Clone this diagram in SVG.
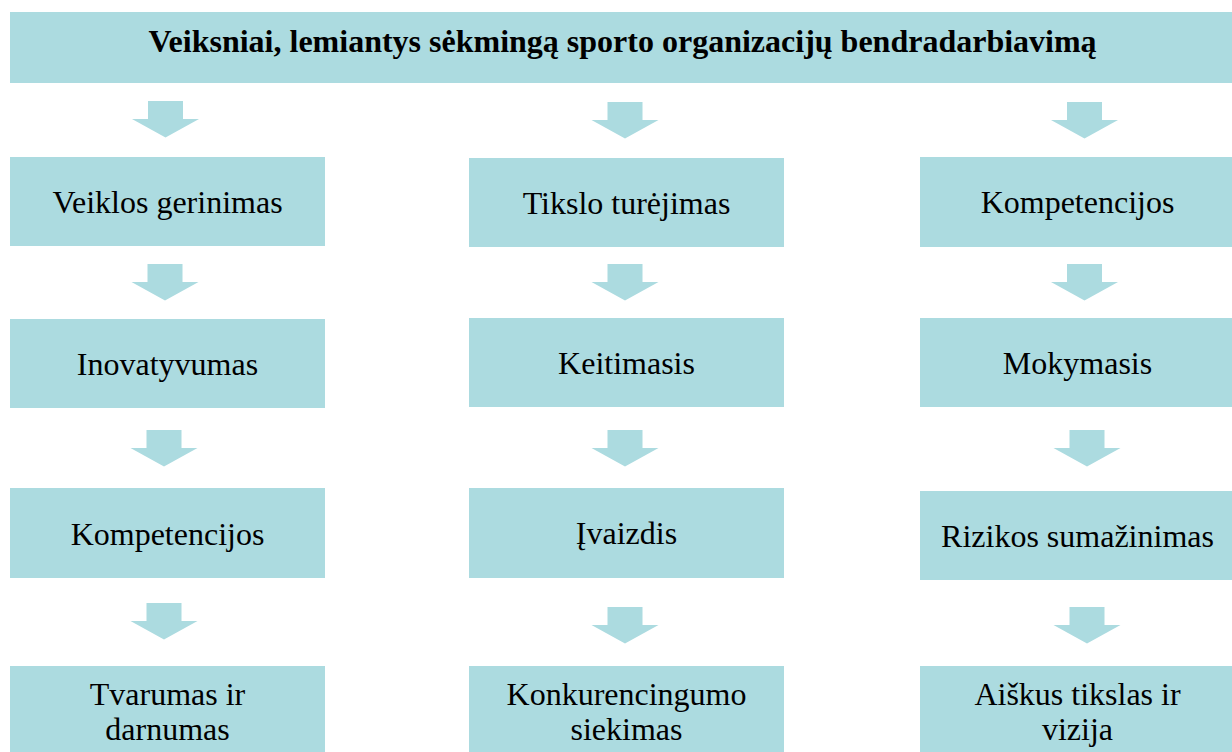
<svg xmlns="http://www.w3.org/2000/svg" xmlns:xlink="http://www.w3.org/1999/xlink" width="1232" height="752" viewBox="0 0 1232 752">
<style>
.box{fill:#acdbe0}
.arr{fill:#acdbe0}
text{font-family:"Liberation Serif","Times New Roman",serif;font-size:32px;fill:#000;text-anchor:middle}
.title{font-weight:bold;font-size:32px}
</style>
<defs>
<path id="dn" d="M-17.5,0 H17.5 V18 H33.5 L0,36.5 L-33.5,18 H-17.5 Z"/>
</defs>
<rect width="1232" height="752" fill="#fff"/>
<g id="connectors" class="arr">
<use xlink:href="#dn" transform="translate(165.5,101)"/>
<use xlink:href="#dn" transform="translate(165,264)"/>
<use xlink:href="#dn" transform="translate(164,430)"/>
<use xlink:href="#dn" transform="translate(164,603)"/>
<use xlink:href="#dn" transform="translate(625,102)"/>
<use xlink:href="#dn" transform="translate(625,264)"/>
<use xlink:href="#dn" transform="translate(625,430)"/>
<use xlink:href="#dn" transform="translate(625,607)"/>
<use xlink:href="#dn" transform="translate(1084.5,102)"/>
<use xlink:href="#dn" transform="translate(1084.5,264)"/>
<use xlink:href="#dn" transform="translate(1087,430)"/>
<use xlink:href="#dn" transform="translate(1087,607)"/>
</g>
<g id="title"><rect class="box" x="10" y="12" width="1225" height="71"/><text class="title" x="622.5" y="52">Veiksniai, lemiantys sėkmingą sporto organizacijų bendradarbiavimą</text></g>
<g id="c1n1"><rect class="box" x="10" y="157" width="315" height="89"/><text x="167.5" y="213">Veiklos gerinimas</text></g>
<g id="c1n2"><rect class="box" x="10" y="319" width="315" height="89"/><text x="167.5" y="375">Inovatyvumas</text></g>
<g id="c1n3"><rect class="box" x="10" y="488" width="315" height="90"/><text x="167.5" y="545">Kompetencijos</text></g>
<g id="c1n4"><rect class="box" x="10" y="666" width="315" height="90"/><text x="167.5" y="705">Tvarumas ir</text><text x="167.5" y="740">darnumas</text></g>
<g id="c2n1"><rect class="box" x="469" y="158" width="315" height="89"/><text x="626.5" y="214">Tikslo turėjimas</text></g>
<g id="c2n2"><rect class="box" x="469" y="318" width="315" height="89"/><text x="626.5" y="374">Keitimasis</text></g>
<g id="c2n3"><rect class="box" x="469" y="488" width="315" height="90"/><text x="626.5" y="544">Įvaizdis</text></g>
<g id="c2n4"><rect class="box" x="469" y="666" width="315" height="90"/><text x="626.5" y="705">Konkurencingumo</text><text x="626.5" y="740">siekimas</text></g>
<g id="c3n1"><rect class="box" x="920" y="157" width="315" height="90"/><text x="1077.5" y="213">Kompetencijos</text></g>
<g id="c3n2"><rect class="box" x="920" y="318" width="315" height="89"/><text x="1077.5" y="374">Mokymasis</text></g>
<g id="c3n3"><rect class="box" x="920" y="491" width="315" height="89"/><text x="1077.5" y="547">Rizikos sumažinimas</text></g>
<g id="c3n4"><rect class="box" x="920" y="666" width="315" height="90"/><text x="1077.5" y="705">Aiškus tikslas ir</text><text x="1077.5" y="740">vizija</text></g>
</svg>
